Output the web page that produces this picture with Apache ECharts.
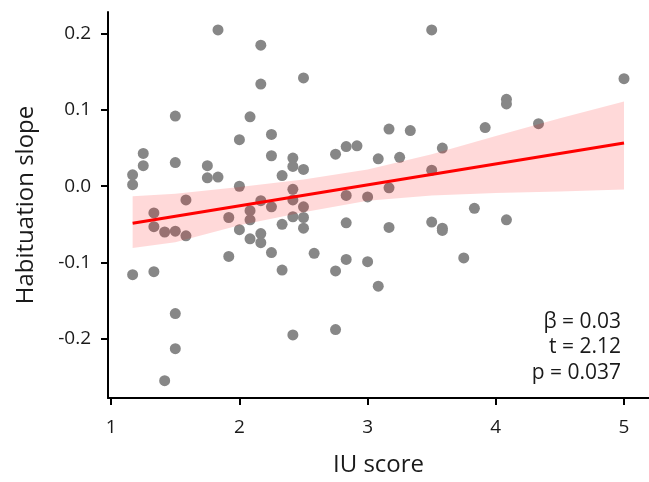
<!DOCTYPE html>
<html>
<head>
<meta charset="utf-8">
<script src="https://cdn.jsdelivr.net/npm/echarts@6/dist/echarts.min.js"></script>
<style>
  html, body { margin: 0; padding: 0; background: #fff; }
  #chart { width: 649px; height: 482px; }
</style>
</head>
<body>
<div id="chart"></div>
<script>
// IU score of each participant
var iuScore = [
  1.167, 1.167, 1.167, 1.25, 1.25, 1.333, 1.333, 1.333, 1.417, 1.417,
  1.5, 1.5, 1.5, 1.5, 1.5, 1.583, 1.583, 1.75, 1.75, 1.833,
  1.833, 1.917, 1.917, 2.0, 2.0, 2.0, 2.083, 2.083, 2.083, 2.083,
  2.167, 2.167, 2.167, 2.167, 2.167, 2.25, 2.25, 2.25, 2.25, 2.333,
  2.333, 2.333, 2.417, 2.417, 2.417, 2.417, 2.417, 2.417, 2.5, 2.5,
  2.5, 2.5, 2.5, 2.583, 2.75, 2.75, 2.75, 2.833, 2.833, 2.833,
  2.833, 2.917, 3.0, 3.0, 3.083, 3.083, 3.167, 3.167, 3.167, 3.25,
  3.333, 3.5, 3.5, 3.5, 3.583, 3.583, 3.583, 3.75, 3.833, 3.917,
  4.083, 4.083, 4.083, 4.333, 5.0
];
// habituation slope of each participant
var habSlope = [
  0.015, 0.002, -0.116, 0.043, 0.027, -0.035, -0.053, -0.112, -0.060, -0.255,
  0.092, 0.031, -0.059, -0.167, -0.213, -0.018, -0.065, 0.027, 0.011, 0.205,
  0.012, -0.041, -0.092, 0.061, 0.000, -0.057, 0.091, -0.032, -0.044, -0.069,
  0.185, 0.134, -0.019, -0.062, -0.074, 0.068, 0.040, -0.027, -0.087, 0.014,
  -0.050, -0.110, 0.037, 0.026, -0.004, -0.018, -0.040, -0.195, 0.142, 0.022,
  -0.027, -0.041, -0.055, -0.088, 0.042, -0.111, -0.188, 0.052, -0.012, -0.048,
  -0.096, 0.053, -0.014, -0.099, 0.036, -0.131, 0.075, -0.002, -0.054, 0.038,
  0.073, 0.205, 0.021, -0.047, 0.050, -0.055, -0.058, -0.094, -0.029, 0.077,
  0.114, 0.108, -0.044, 0.082, 0.141
];

// fitted line end points
var fitX = [1.167, 5.0];
var fitY = [-0.0485, 0.0568];

// confidence band
var bandX  = [1.167, 1.5, 2.0, 2.5, 3.0, 3.5, 4.0, 4.5, 5.0];
var bandHi = [-0.013, -0.010, -0.001, 0.009, 0.022, 0.042, 0.066, 0.089, 0.111];
var bandLo = [-0.081, -0.0735, -0.051, -0.034, -0.019, -0.012, -0.009, -0.007, -0.0044];

var xTicks = [1, 2, 3, 4, 5];
var yTicks = [-0.2, -0.1, 0.0, 0.1, 0.2];

var statLines = ['β = 0.03', 't = 2.12', 'p = 0.037'];

var FONT = '"Open Sans", "Noto Sans", sans-serif';

var chart = echarts.init(document.getElementById('chart'), null, { renderer: 'canvas' });

var points = iuScore.map(function (x, i) { return [x, habSlope[i]]; });
var fitData = fitX.map(function (x, i) { return [x, fitY[i]]; });
var bandData = bandX.map(function (x, i) { return [x, bandLo[i], bandHi[i]]; });

var option = {
  animation: false,
  backgroundColor: '#fff',
  grid: { left: 108, right: 0, top: 12, bottom: 78 },
  xAxis: {
    type: 'value',
    min: 0.975,
    max: 5.195,
    name: 'IU score',
    nameLocation: 'middle',
    nameGap: 55,
    nameTextStyle: { fontFamily: FONT, fontSize: 24, color: '#1a1a1a' },
    axisLine: { onZero: false, lineStyle: { color: '#000', width: 2 } },
    axisTick: { show: true, length: 7, lineStyle: { color: '#000', width: 2 }, customValues: xTicks },
    axisLabel: { fontFamily: FONT, fontSize: 19, color: '#1a1a1a', margin: 20, customValues: xTicks },
    splitLine: { show: false }
  },
  yAxis: {
    type: 'value',
    min: -0.2777,
    max: 0.2285,
    name: 'Habituation slope',
    nameLocation: 'middle',
    nameGap: 70,
    nameTextStyle: { fontFamily: FONT, fontSize: 24, color: '#1a1a1a' },
    axisLine: { show: true, onZero: false, lineStyle: { color: '#000', width: 2 } },
    axisTick: { show: true, length: 7, lineStyle: { color: '#000', width: 2 }, customValues: yTicks },
    axisLabel: {
      fontFamily: FONT, fontSize: 19, color: '#1a1a1a', margin: 17,
      customValues: yTicks,
      formatter: function (v) { return v.toFixed(1); }
    },
    splitLine: { show: false }
  },
  series: [
    {
      type: 'scatter',
      data: points,
      symbolSize: 11,
      itemStyle: { color: '#878787', opacity: 1 },
      z: 2
    },
    {
      // CI band as one polygon
      type: 'custom',
      data: bandData,
      encode: { x: 0, y: [1, 2] },
      z: 3,
      renderItem: function (params, api) {
        if (params.dataIndex !== 0) return null;
        var pts = [];
        for (var i = 0; i < bandX.length; i++) pts.push(api.coord([bandX[i], bandHi[i]]));
        for (var j = bandX.length - 1; j >= 0; j--) pts.push(api.coord([bandX[j], bandLo[j]]));
        return {
          type: 'polygon',
          shape: { points: pts },
          style: { fill: 'rgba(255,0,0,0.15)' }
        };
      }
    },
    {
      type: 'line',
      data: fitData,
      symbol: 'none',
      lineStyle: { color: '#ff0000', width: 3 },
      z: 4
    }
  ],
  graphic: statLines.map(function (t, i) {
    return {
      type: 'text',
      x: 621,
      y: 322 + i * 25.5,
      style: {
        text: t,
        fontFamily: FONT,
        fontSize: 21,
        fill: '#1a1a1a',
        textAlign: 'right',
        textVerticalAlign: 'middle'
      }
    };
  })
};

chart.setOption(option);
</script>
</body>
</html>
